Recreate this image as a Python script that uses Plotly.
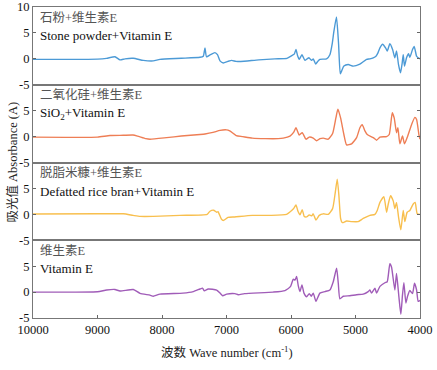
import plotly.graph_objects as go
from plotly.subplots import make_subplots

# ---- data ----
wn_stone = [10000, 9500, 9000, 8860, 8729, 8651, 8574, 8445, 8290, 8135, 8032, 7700, 7411, 7360, 7334, 7310, 7250, 7180, 7140, 7101, 7050, 6980, 6920, 6853, 6780, 6500, 6250, 6063, 5990, 5950, 5923, 5900, 5872, 5830, 5784, 5750, 5722, 5680, 5655, 5618, 5580, 5552, 5448, 5397, 5360, 5335, 5295, 5262, 5236, 5210, 5180, 5113, 5035, 4932, 4828, 4777, 4725, 4683, 4650, 4621, 4580, 4529, 4508, 4467, 4425, 4390, 4364, 4333, 4302, 4276, 4260, 4240, 4209, 4178, 4157, 4116, 4090, 4053, 4028, 4000]
ab_stone = [-0.1, -0.1, -0.05, 0.1, 0.4, -0.2, 0.0, 0.1, -0.3, -0.4, -0.1, 0.1, 0.3, 0.5, 2.1, 0.4, 0.8, 1.2, 0.8, -0.4, -0.8, -0.5, -0.3, -0.5, -0.5, -0.2, 0.0, 0.1, 0.6, 0.9, 1.8, 0.7, -0.1, 0.8, -0.3, 0.0, 0.2, -0.3, 0.0, -1.0, -0.4, -0.1, 0.0, 0.8, 3.0, 5.3, 8.1, 2.8, -2.9, -2.2, -1.4, -1.1, -1.4, -1.0, -0.1, 0.0, 0.2, 0.5, 1.2, 2.1, 2.8, 2.0, 1.5, 2.9, 1.8, 0.2, 1.5, -1.1, -2.7, -0.8, 0.8, -1.4, 0.2, 1.0, 0.3, 1.8, 2.4, 0.5, 0.2, 0.0]

wn_sio2 = [10000, 9500, 9000, 8806, 8600, 8450, 8380, 8250, 8186, 7928, 7700, 7411, 7334, 7210, 7101, 7000, 6950, 6850, 6750, 6600, 6400, 6200, 6120, 6016, 5960, 5923, 5872, 5826, 5768, 5717, 5655, 5603, 5550, 5500, 5422, 5355, 5304, 5273, 5231, 5180, 5138, 5061, 4983, 4932, 4896, 4854, 4818, 4725, 4673, 4621, 4518, 4477, 4430, 4400, 4364, 4343, 4312, 4271, 4240, 4199, 4131, 4080, 4053, 4017, 4000]
ab_sio2 = [-0.1, -0.15, -0.1, 0.2, 0.25, 0.3, 0.1, -0.4, -0.5, -0.2, 0.1, 0.4, 0.5, 0.8, 1.2, 1.3, 1.1, 0.2, 0.0, -0.3, -0.4, -0.4, -0.3, 0.1, 0.8, 1.7, 0.3, 0.75, -0.5, -0.1, -0.3, -0.8, -0.4, -0.3, -0.5, 0.6, 3.6, 5.3, 3.6, 0.4, -1.6, -1.4, -0.2, 1.7, 2.3, 1.1, 0.4, -0.2, -0.7, -0.1, 0.0, 0.4, 4.6, 3.6, 0.75, 1.7, -1.4, 0.1, -1.4, -0.2, 2.3, 3.7, 3.3, 0.4, -0.5]

wn_bran = [10000, 9000, 8600, 8450, 8341, 8135, 7720, 7300, 7256, 7200, 7153, 7132, 7080, 7050, 6977, 6874, 6600, 6326, 6068, 5990, 5954, 5923, 5892, 5861, 5826, 5795, 5758, 5717, 5680, 5655, 5613, 5562, 5500, 5422, 5355, 5314, 5283, 5257, 5231, 5205, 5138, 5061, 4958, 4880, 4777, 4699, 4663, 4621, 4560, 4518, 4492, 4456, 4415, 4390, 4364, 4333, 4297, 4260, 4235, 4199, 4157, 4105, 4075, 4043, 4000]
ab_bran = [0.05, 0.1, 0.1, -0.2, -0.4, -0.4, -0.2, 0.0, 0.6, 0.8, 0.4, 0.5, -0.9, -1.2, -0.6, -0.5, -0.2, -0.2, 0.0, 0.75, 1.2, 1.8, 0.6, -0.1, 0.9, -0.4, -0.5, -0.1, -0.3, 0.1, -1.1, -0.2, 0.1, 0.0, 1.1, 4.2, 6.8, 3.6, -0.8, -1.6, -1.3, -1.4, -1.4, -0.8, -0.2, 0.0, 0.75, 2.3, 3.4, 0.4, 2.0, 3.6, 2.6, 1.1, 2.3, -0.5, -3.0, 0.75, -1.4, 0.4, 0.75, 2.0, 2.3, 0.1, 0.0]

wn_vite = [10000, 9500, 9000, 8858, 8729, 8651, 8445, 8341, 8187, 8135, 8032, 7675, 7515, 7411, 7372, 7345, 7283, 7153, 7101, 7060, 6998, 6869, 6818, 6720, 6275, 6094, 6006, 5965, 5939, 5913, 5887, 5861, 5830, 5799, 5758, 5717, 5686, 5655, 5613, 5552, 5474, 5397, 5345, 5293, 5267, 5242, 5190, 5087, 4983, 4880, 4803, 4777, 4751, 4699, 4673, 4621, 4544, 4508, 4467, 4441, 4390, 4364, 4328, 4297, 4271, 4250, 4219, 4193, 4157, 4116, 4085, 4053, 4028, 4000]
ab_vite = [0.0, 0.0, 0.05, 0.4, 0.5, 0.2, 0.5, -0.25, -0.6, -0.8, -0.4, -0.2, 0.1, 0.6, 0.75, 0.25, 0.6, 0.4, -0.2, -0.7, -0.4, -0.3, -0.5, -0.3, 0.0, 0.3, 1.1, 2.5, 2.3, 3.0, 1.2, 0.1, 1.4, -0.2, -0.9, -0.3, -0.8, -0.2, -1.8, -0.2, 0.1, 0.4, 2.0, 4.6, 1.7, -1.3, -0.8, -0.7, -0.5, -0.4, 0.1, 0.4, -0.2, 0.75, -0.2, 1.1, 1.8, 2.0, 5.5, 4.8, 0.4, 3.6, -0.8, -4.3, -0.5, 1.8, -2.1, -0.8, 0.3, -0.3, 1.7, 0.4, -1.8, -1.6]

labels_cn = ["石粉+维生素E", "二氧化硅+维生素E", "脱脂米糠+维生素E", "维生素E"]
labels_en = ["Stone powder+Vitamin E", "SiO<sub>2</sub>+Vitamin E", "Defatted rice bran+Vitamin E", "Vitamin E"]
x_ticks = [10000, 9000, 8000, 7000, 6000, 5000, 4000]
y_ticks_top = [-5, 0, 5, 10]
y_ticks_other = [-5, 0, 5]

series = [(wn_stone, ab_stone), (wn_sio2, ab_sio2), (wn_bran, ab_bran), (wn_vite, ab_vite)]
colors = ["#4C9AD6", "#EE7E55", "#F8BF4E", "#A05CB8"]

FONT = "'Liberation Serif', 'Times New Roman', 'Noto Sans CJK SC', serif"

fig = make_subplots(rows=4, cols=1, shared_xaxes=True, vertical_spacing=0)

for i, (wn, ab) in enumerate(series):
    fig.add_trace(go.Scatter(x=wn, y=ab, mode="lines",
                             line=dict(color=colors[i], width=1.4, shape="spline", smoothing=0.5),
                             showlegend=False, hoverinfo="skip"), row=i + 1, col=1)
    yname = "y" if i == 0 else f"y{i+1}"
    fig.add_annotation(x=0.012, xref="x domain", y=8.0, yref=yname, text=labels_cn[i],
                       showarrow=False, xanchor="left", yanchor="middle",
                       font=dict(family=FONT, size=12.5, color="#555555"))
    fig.add_annotation(x=0.012, xref="x domain", y=4.5, yref=yname, text=labels_en[i],
                       showarrow=False, xanchor="left", yanchor="middle",
                       font=dict(family=FONT, size=13, color="#111111"))
    ticks_here = y_ticks_top if i == 0 else y_ticks_other
    fig.update_yaxes(range=[-5, 10], tickvals=ticks_here,
                     ticktext=[str(v) for v in ticks_here],
                     ticks="inside", ticklen=3, tickcolor="#666666", mirror="ticks",
                     showline=True, linecolor="#777777", linewidth=1,
                     showgrid=False, zeroline=False, automargin=False,
                     tickfont=dict(family=FONT, size=12.5, color="#111111"),
                     row=i + 1, col=1)
    if i < 3:
        fig.update_xaxes(range=[10000, 4000], showline=True, mirror=True, linecolor="#777777",
                         linewidth=1, ticks="", showticklabels=False, showgrid=False,
                         zeroline=False, automargin=False, row=i + 1, col=1)
    else:
        fig.update_xaxes(range=[10000, 4000], showline=True, mirror=True, linecolor="#777777",
                         linewidth=1, ticks="inside", ticklen=3, tickcolor="#666666",
                         tickvals=x_ticks, ticktext=[str(v) for v in x_ticks],
                         showgrid=False, zeroline=False, automargin=False,
                         tickfont=dict(family=FONT, size=12.5, color="#111111"),
                         row=i + 1, col=1)

fig.add_annotation(x=-0.054, xref="paper", y=0.5, yref="paper", xanchor="center", yanchor="middle",
                   text="吸光值 Absorbance (A)",
                   showarrow=False, textangle=-90, font=dict(family=FONT, size=12.5, color="#222222"))
fig.add_annotation(x=0.5, xref="paper", y=-0.108, yref="paper", xanchor="center", yanchor="middle",
                   text="波数 Wave number (cm<sup>-1</sup>)",
                   showarrow=False, font=dict(family=FONT, size=12.5, color="#222222"))

fig.update_layout(width=437, height=370, margin=dict(l=33, r=17, t=7, b=52, autoexpand=False),
                  plot_bgcolor="white", paper_bgcolor="white", hovermode=False)

fig.write_html("out.html", config={"displayModeBar": False},
               post_script="document.body.style.margin='0';")
